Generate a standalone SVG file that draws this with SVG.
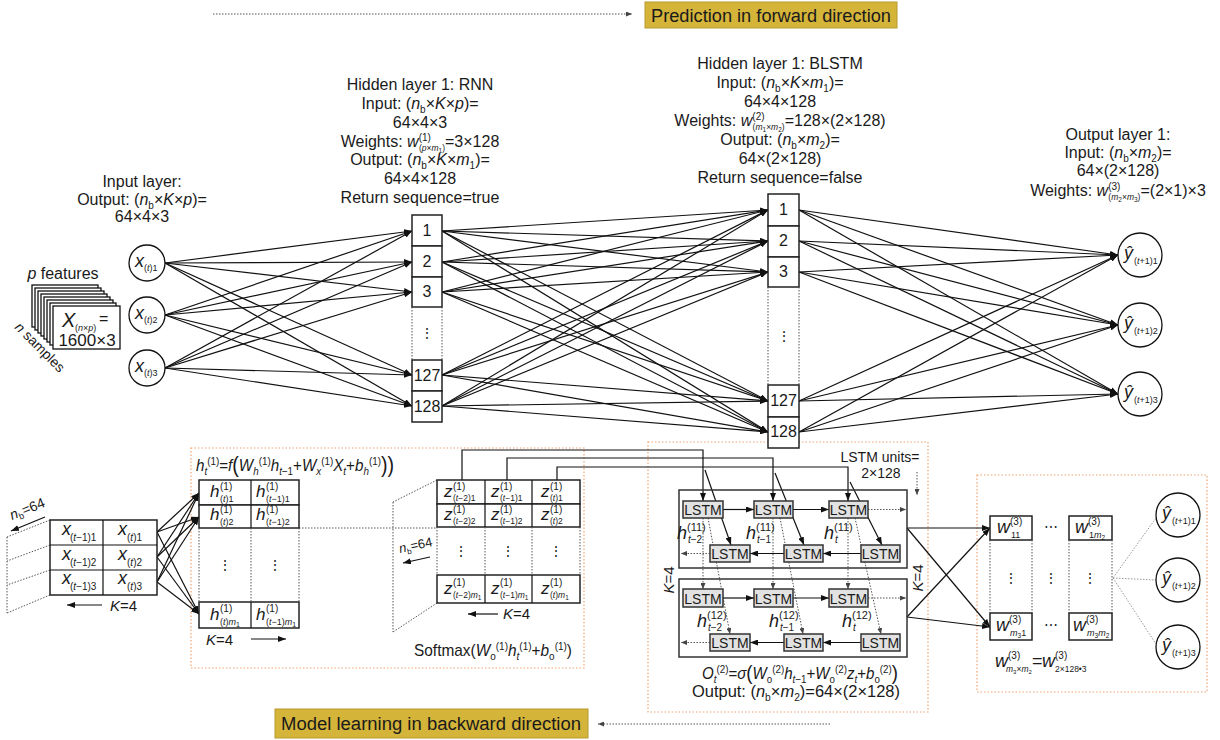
<svg xmlns="http://www.w3.org/2000/svg" width="1220" height="740" viewBox="0 0 1220 740">
<defs>
<style>
text{font-family:'Liberation Sans',Arial,sans-serif;fill:#1a1a1a}
.i{font-style:italic}
.l{stroke:#111;stroke-width:1.2;fill:none}
.la{stroke:#111;stroke-width:1.2;fill:none;marker-end:url(#a)}
.d{stroke:#555;stroke-width:1;stroke-dasharray:1.5 1.5;fill:none}
.da{stroke:#555;stroke-width:1;stroke-dasharray:1.5 1.5;fill:none;marker-end:url(#ag)}
.dg{stroke:#999;stroke-width:1;stroke-dasharray:1.5 1.5;fill:none}
.o{stroke:#F2A46E;stroke-width:1.2;stroke-dasharray:1.5 2;fill:none}
.bx{fill:#fff;stroke:#222;stroke-width:1.5}
.ls{fill:#e2e2e2;stroke:#333;stroke-width:1.5}
.nd{fill:#fff;stroke:#111;stroke-width:1.3}
.m{font-size:16px}
.c{text-anchor:middle}
</style>
<marker id="a" viewBox="0 0 8 6" refX="8" refY="3" markerWidth="8" markerHeight="6" orient="auto" markerUnits="userSpaceOnUse"><path d="M0,0L8,3L0,6z" fill="#111"/></marker>
<marker id="ag" viewBox="0 0 6 5" refX="6" refY="2.5" markerWidth="6" markerHeight="5" orient="auto" markerUnits="userSpaceOnUse"><path d="M0,0L6,2.5L0,5z" fill="#444"/></marker>
</defs>
<rect width="1220" height="740" fill="#fff"/>

<g id="banner-top">
<line x1="213" y1="14" x2="632" y2="14" class="da"/>
<rect x="645" y="2" width="252" height="26" fill="#D5B43A" stroke="#B89A2C"/>
<text x="771" y="21.5" class="c" font-size="18" textLength="240" lengthAdjust="spacingAndGlyphs" fill="#000">Prediction in forward direction</text>
</g>
<g id="banner-bottom">
<line x1="830" y1="724" x2="598" y2="724" class="da"/>
<rect x="275" y="709" width="313" height="29" fill="#D5B43A" stroke="#B89A2C"/>
<text x="431" y="730" class="c" font-size="18" textLength="300" lengthAdjust="spacingAndGlyphs" fill="#000">Model learning in backward direction</text>
</g>

<g id="panels">
<rect x="191" y="448" width="393" height="220" class="o"/>
<rect x="648" y="442" width="280" height="270" class="o"/>
<rect x="977" y="475" width="230" height="217" class="o"/>
</g>

<g id="label-input">
<text x="142" y="187" class="c m">Input layer:</text>
<text x="142" y="205" class="c m">Output: (<tspan class="i">n</tspan><tspan font-size="10" dy="4">b</tspan><tspan dy="-4">×</tspan><tspan class="i">K</tspan>×<tspan class="i">p</tspan>)=</text>
<text x="142" y="222" class="c m">64×4×3</text>
</g>
<g id="label-rnn">
<text x="420" y="90" class="c m">Hidden layer 1: RNN</text>
<text x="420" y="109" class="c m">Input: (<tspan class="i">n</tspan><tspan font-size="10" dy="4">b</tspan><tspan dy="-4">×</tspan><tspan class="i">K</tspan>×<tspan class="i">p</tspan>)=</text>
<text x="420" y="128" class="c m">64×4×3</text>
<text x="420" y="146.5" class="c m">Weights: <tspan class="i">w</tspan><tspan font-size="10" dy="-6">(1)</tspan><tspan font-size="8.5" dx="-12" dy="10">(<tspan class="i">p</tspan>×<tspan class="i">m</tspan><tspan font-size="6.5" dy="2">1</tspan><tspan dy="-2">)</tspan></tspan><tspan dy="-4">=3×128</tspan></text>
<text x="420" y="165" class="c m">Output: (<tspan class="i">n</tspan><tspan font-size="10" dy="4">b</tspan><tspan dy="-4">×</tspan><tspan class="i">K</tspan>×<tspan class="i">m</tspan><tspan font-size="10" dy="4">1</tspan><tspan dy="-4">)=</tspan></text>
<text x="420" y="184" class="c m">64×4×128</text>
<text x="420" y="203" class="c m">Return sequence=true</text>
</g>
<g id="label-blstm">
<text x="780" y="69" class="c m">Hidden layer 1: BLSTM</text>
<text x="780" y="88" class="c m">Input: (<tspan class="i">n</tspan><tspan font-size="10" dy="4">b</tspan><tspan dy="-4">×</tspan><tspan class="i">K</tspan>×<tspan class="i">m</tspan><tspan font-size="10" dy="4">1</tspan><tspan dy="-4">)=</tspan></text>
<text x="780" y="107" class="c m">64×4×128</text>
<text x="780" y="126" class="c m">Weights: <tspan class="i">w</tspan><tspan font-size="10" dy="-6">(2)</tspan><tspan font-size="8.5" dx="-12" dy="10">(<tspan class="i">m</tspan><tspan font-size="6.5" dy="2">1</tspan><tspan dy="-2">×</tspan><tspan class="i">m</tspan><tspan font-size="6.5" dy="2">2</tspan><tspan dy="-2">)</tspan></tspan><tspan dy="-4">=128×(2×128)</tspan></text>
<text x="780" y="145" class="c m">Output: (<tspan class="i">n</tspan><tspan font-size="10" dy="4">b</tspan><tspan dy="-4">×</tspan><tspan class="i">m</tspan><tspan font-size="10" dy="4">2</tspan><tspan dy="-4">)=</tspan></text>
<text x="780" y="164" class="c m">64×(2×128)</text>
<text x="780" y="183" class="c m">Return sequence=false</text>
</g>
<g id="label-output">
<text x="1118" y="140" class="c m">Output layer 1:</text>
<text x="1118" y="158" class="c m">Input: (<tspan class="i">n</tspan><tspan font-size="10" dy="4">b</tspan><tspan dy="-4">×</tspan><tspan class="i">m</tspan><tspan font-size="10" dy="4">2</tspan><tspan dy="-4">)=</tspan></text>
<text x="1118" y="176" class="c m">64×(2×128)</text>
<text x="1118" y="196" class="c m">Weights: <tspan class="i">w</tspan><tspan font-size="10" dy="-6">(3)</tspan><tspan font-size="8.5" dx="-12" dy="10">(<tspan class="i">m</tspan><tspan font-size="6.5" dy="2">2</tspan><tspan dy="-2">×</tspan><tspan class="i">m</tspan><tspan font-size="6.5" dy="2">3</tspan><tspan dy="-2">)</tspan></tspan><tspan dy="-4">=(2×1)×3</tspan></text>
</g>

<g id="connectors">
<path class="la" d="M165,263L412,231"/><path class="la" d="M165,263L412,262"/><path class="la" d="M165,263L412,292"/><path class="la" d="M165,263L412,375"/><path class="la" d="M165,263L412,406"/>
<path class="la" d="M165,315L412,231"/><path class="la" d="M165,315L412,262"/><path class="la" d="M165,315L412,292"/><path class="la" d="M165,315L412,375"/><path class="la" d="M165,315L412,406"/>
<path class="la" d="M165,368L412,231"/><path class="la" d="M165,368L412,262"/><path class="la" d="M165,368L412,292"/><path class="la" d="M165,368L412,375"/><path class="la" d="M165,368L412,406"/>

<path class="la" d="M442,231L768,210"/><path class="la" d="M442,231L768,241"/><path class="la" d="M442,231L768,272"/><path class="la" d="M442,231L768,401"/><path class="la" d="M442,231L768,432"/>
<path class="la" d="M442,262L768,210"/><path class="la" d="M442,262L768,241"/><path class="la" d="M442,262L768,272"/><path class="la" d="M442,262L768,401"/><path class="la" d="M442,262L768,432"/>
<path class="la" d="M442,292L768,210"/><path class="la" d="M442,292L768,241"/><path class="la" d="M442,292L768,272"/><path class="la" d="M442,292L768,401"/><path class="la" d="M442,292L768,432"/>
<path class="la" d="M442,375L768,210"/><path class="la" d="M442,375L768,241"/><path class="la" d="M442,375L768,272"/><path class="la" d="M442,375L768,401"/><path class="la" d="M442,375L768,432"/>
<path class="la" d="M442,406L768,210"/><path class="la" d="M442,406L768,241"/><path class="la" d="M442,406L768,272"/><path class="la" d="M442,406L768,401"/><path class="la" d="M442,406L768,432"/>

<path class="la" d="M799,210L1118,255"/><path class="la" d="M799,210L1118,325"/><path class="la" d="M799,210L1118,394"/>
<path class="la" d="M799,241L1118,255"/><path class="la" d="M799,241L1118,325"/><path class="la" d="M799,241L1118,394"/>
<path class="la" d="M799,272L1118,255"/><path class="la" d="M799,272L1118,325"/><path class="la" d="M799,272L1118,394"/>
<path class="la" d="M799,401L1118,255"/><path class="la" d="M799,401L1118,325"/><path class="la" d="M799,401L1118,394"/>
<path class="la" d="M799,432L1118,255"/><path class="la" d="M799,432L1118,325"/><path class="la" d="M799,432L1118,394"/>

<path class="la" d="M157,532L199,493"/><path class="la" d="M157,532L199,517"/><path class="la" d="M157,532L199,614"/>
<path class="la" d="M157,557L199,493"/><path class="la" d="M157,557L199,517"/><path class="la" d="M157,557L199,614"/>
<path class="la" d="M157,582L199,493"/><path class="la" d="M157,582L199,517"/><path class="la" d="M157,582L199,614"/>

<path class="la" d="M462,480V450H703V501"/>
<path class="la" d="M507,480V458H773V501"/>
<path class="la" d="M557,480V467H848V501"/>
<path class="la" d="M705,470L731,545"/>
<path class="la" d="M775,473L804,545"/>
<path class="la" d="M850,482L882,545"/>
<path class="da" d="M703,518V589"/><path class="da" d="M708,518L730,634"/>
<path class="da" d="M773,518V589"/><path class="da" d="M780,518L803,634"/>
<path class="da" d="M848,518V589"/><path class="da" d="M855,518L881,634"/>

<path class="la" d="M723,509.5H754"/><path class="la" d="M793,509.5H829"/><path class="da" d="M868,509.5H906"/>
<path class="la" d="M861,553.5H823"/><path class="la" d="M784,553.5H750"/><path class="da" d="M710,553.5H681"/>
<path class="la" d="M723,598H754"/><path class="la" d="M793,598H829"/><path class="da" d="M868,598H906"/>
<path class="la" d="M861,642.5H823"/><path class="la" d="M784,642.5H750"/><path class="da" d="M710,642.5H681"/>
<path class="da" d="M917,472V495"/>

<path class="la" d="M907,528L990,528"/><path class="la" d="M907,528L990,627"/>
<path class="la" d="M907,617L990,528"/><path class="la" d="M907,617L990,627"/>

<path class="dg" d="M1113,578L1156,518"/><path class="dg" d="M1113,578L1156,580"/><path class="dg" d="M1113,578L1156,644"/>
</g>

<g id="data-stack">
<text x="63" y="279" class="c m"><tspan class="i">p</tspan> features</text>
<rect x="32" y="285" width="66" height="42" class="nd"/>
<rect x="35" y="288" width="66" height="42" class="nd"/>
<rect x="38" y="291" width="66" height="42" class="nd"/>
<rect x="41" y="294" width="66" height="42" class="nd"/>
<rect x="44" y="297" width="66" height="42" class="nd"/>
<rect x="47" y="300" width="66" height="42" class="nd"/>
<rect x="50" y="303" width="66" height="42" class="nd"/>
<rect x="53" y="306" width="67" height="43" class="nd"/>
<text x="62" y="327" font-size="20" class="i">X</text>
<text x="75" y="331" font-size="9">(<tspan class="i">n</tspan>×<tspan class="i">p</tspan>)</text>
<text x="99" y="324" font-size="16">=</text>
<text x="87" y="346" class="c" font-size="17">1600×3</text>
<text x="14" y="328" font-size="14" transform="rotate(45 14 328)"><tspan class="i">n</tspan> samples</text>
</g>

<g id="in-1"><circle cx="147" cy="263" r="18" class="nd"/><text x="135" y="267" font-size="18" class="i">x</text><text x="144" y="271" font-size="9">(<tspan class="i">t</tspan>)1</text></g>
<g id="in-2"><circle cx="147" cy="315" r="18" class="nd"/><text x="135" y="319" font-size="18" class="i">x</text><text x="144" y="323" font-size="9">(<tspan class="i">t</tspan>)2</text></g>
<g id="in-3"><circle cx="147" cy="368" r="18" class="nd"/><text x="135" y="372" font-size="18" class="i">x</text><text x="144" y="376" font-size="9">(<tspan class="i">t</tspan>)3</text></g>

<g id="rnn">
<rect x="412" y="215" width="30" height="31" class="bx"/><text x="427" y="236" class="c m">1</text>
<rect x="412" y="246" width="30" height="31" class="bx"/><text x="427" y="267" class="c m">2</text>
<rect x="412" y="277" width="30" height="30" class="bx"/><text x="427" y="297" class="c m">3</text>
<path class="d" d="M412,307V360M442,307V360"/>
<text x="427" y="338" class="c" font-size="14">⋮</text>
<rect x="412" y="360" width="30" height="31" class="bx"/><text x="427" y="381" class="c m">127</text>
<rect x="412" y="391" width="30" height="31" class="bx"/><text x="427" y="412" class="c m">128</text>
</g>

<g id="blstm">
<rect x="768" y="194" width="31" height="32" class="bx"/><text x="783.5" y="215" class="c m">1</text>
<rect x="768" y="226" width="31" height="31" class="bx"/><text x="783.5" y="246" class="c m">2</text>
<rect x="768" y="257" width="31" height="30" class="bx"/><text x="783.5" y="277" class="c m">3</text>
<path class="d" d="M768,287V385M799,287V385"/>
<text x="783.5" y="341" class="c" font-size="14">⋮</text>
<rect x="768" y="385" width="31" height="32" class="bx"/><text x="783.5" y="406" class="c m">127</text>
<rect x="768" y="417" width="31" height="31" class="bx"/><text x="783.5" y="437" class="c m">128</text>
</g>

<g id="out-1"><circle cx="1140" cy="255" r="22" class="nd"/><text x="1124" y="259" font-size="18" class="i">ŷ</text><text x="1134" y="264" font-size="9">(<tspan class="i">t</tspan>+1)1</text></g>
<g id="out-2"><circle cx="1140" cy="325" r="22" class="nd"/><text x="1124" y="329" font-size="18" class="i">ŷ</text><text x="1134" y="334" font-size="9">(<tspan class="i">t</tspan>+1)2</text></g>
<g id="out-3"><circle cx="1140" cy="394" r="22" class="nd"/><text x="1124" y="398" font-size="18" class="i">ŷ</text><text x="1134" y="403" font-size="9">(<tspan class="i">t</tspan>+1)3</text></g>

<g id="x-matrix">
<path class="d" d="M50,520L7,537M50,545L7,561M50,570L7,585M50,595L7,613M7,537V613"/>
<rect x="50" y="520" width="107" height="75" class="bx"/>
<path class="l" d="M103,520V595M50,545H157M50,570H157" stroke-width="1.5"/>
<text x="62" y="535" font-size="18" class="i">x</text><text x="70" y="541" font-size="10">(<tspan class="i">t</tspan>−1)1</text>
<text x="118" y="535" font-size="18" class="i">x</text><text x="127" y="541" font-size="10">(<tspan class="i">t</tspan>)1</text>
<text x="62" y="560" font-size="18" class="i">x</text><text x="70" y="566" font-size="10">(<tspan class="i">t</tspan>−1)2</text>
<text x="118" y="560" font-size="18" class="i">x</text><text x="127" y="566" font-size="10">(<tspan class="i">t</tspan>)2</text>
<text x="62" y="584" font-size="18" class="i">x</text><text x="70" y="590" font-size="10">(<tspan class="i">t</tspan>−1)3</text>
<text x="118" y="584" font-size="18" class="i">x</text><text x="127" y="590" font-size="10">(<tspan class="i">t</tspan>)3</text>
<path class="la" d="M45,517L11,531"/>
<text x="12" y="520" font-size="14" transform="rotate(-22 12 520)"><tspan class="i">n</tspan><tspan font-size="9" dy="3">b</tspan><tspan dy="-3">=64</tspan></text>
<path class="la" d="M102,605H67"/>
<text x="110" y="611" font-size="15"><tspan class="i">K</tspan>=4</text>
</g>

<g id="h-matrix">
<text x="196" y="471" font-size="17" textLength="198" lengthAdjust="spacingAndGlyphs"><tspan class="i">h</tspan><tspan class="i" font-size="11" dy="4">t</tspan><tspan font-size="11" dy="-10">(1)</tspan><tspan dy="6">=</tspan><tspan class="i">f</tspan><tspan font-size="22" dy="1">(</tspan><tspan class="i" dy="-1">W</tspan><tspan class="i" font-size="11" dy="4">h</tspan><tspan font-size="11" dy="-10">(1)</tspan><tspan class="i" dy="6">h</tspan><tspan font-size="11" dy="4"><tspan class="i">t</tspan>−1</tspan><tspan dy="-4">+</tspan><tspan class="i">W</tspan><tspan class="i" font-size="11" dy="4">x</tspan><tspan font-size="11" dy="-10">(1)</tspan><tspan class="i" dy="6">X</tspan><tspan class="i" font-size="11" dy="4">t</tspan><tspan dy="-4">+</tspan><tspan class="i">b</tspan><tspan class="i" font-size="11" dy="4">h</tspan><tspan font-size="11" dy="-10">(1)</tspan><tspan font-size="22" dy="7">))</tspan></text>
<path class="d" d="M299,528H437"/>
<rect x="199" y="480" width="100" height="25" class="bx"/>
<rect x="199" y="505" width="100" height="23" class="bx"/>
<rect x="199" y="602" width="100" height="26" class="bx"/>
<path class="l" stroke-width="1.5" d="M251,480V528M251,602V628"/>
<path class="d" d="M199,528V602M251,528V602M299,528V602"/>
<text x="225" y="570" class="c" font-size="14">⋮</text><text x="275" y="570" class="c" font-size="14">⋮</text>
<text x="210" y="497" font-size="17" class="i">h</text><text x="220" y="490" font-size="10">(1)</text><text x="220" y="502" font-size="9">(<tspan class="i">t</tspan>)1</text>
<text x="256" y="497" font-size="17" class="i">h</text><text x="266" y="490" font-size="10">(1)</text><text x="266" y="502" font-size="9">(<tspan class="i">t</tspan>−1)1</text>
<text x="210" y="520" font-size="17" class="i">h</text><text x="220" y="513" font-size="10">(1)</text><text x="220" y="525" font-size="9">(<tspan class="i">t</tspan>)2</text>
<text x="256" y="520" font-size="17" class="i">h</text><text x="266" y="513" font-size="10">(1)</text><text x="266" y="525" font-size="9">(<tspan class="i">t</tspan>−1)2</text>
<text x="210" y="620" font-size="17" class="i">h</text><text x="220" y="612" font-size="10">(1)</text><text x="220" y="625" font-size="9">(<tspan class="i">t</tspan>)<tspan class="i">m</tspan><tspan font-size="7" dy="2">1</tspan></text>
<text x="256" y="620" font-size="17" class="i">h</text><text x="266" y="612" font-size="10">(1)</text><text x="266" y="625" font-size="9">(<tspan class="i">t</tspan>−1)<tspan class="i">m</tspan><tspan font-size="7" dy="2">1</tspan></text>
<text x="206" y="645" font-size="15"><tspan class="i">K</tspan>=4</text>
<path class="la" d="M251,639H286"/>
</g>

<g id="z-matrix">
<path class="d" d="M437,480L393,502M437,603L393,632M393,502V632"/>
<rect x="437" y="480" width="143" height="24" class="bx"/>
<rect x="437" y="504" width="143" height="23" class="bx"/>
<rect x="437" y="575" width="143" height="28" class="bx"/>
<path class="l" stroke-width="1.5" d="M485,480V527M532,480V527M485,575V603M532,575V603"/>
<path class="d" d="M437,527V575M485,527V575M532,527V575M580,527V575"/>
<text x="461" y="556" class="c" font-size="14">⋮</text><text x="508" y="556" class="c" font-size="14">⋮</text><text x="556" y="556" class="c" font-size="14">⋮</text>
<text x="444" y="497" font-size="17" class="i">z</text><text x="453" y="490" font-size="10">(1)</text><text x="453" y="501" font-size="8.5">(<tspan class="i">t</tspan>−2)1</text>
<text x="491" y="497" font-size="17" class="i">z</text><text x="500" y="490" font-size="10">(1)</text><text x="500" y="501" font-size="8.5">(<tspan class="i">t</tspan>−1)1</text>
<text x="541" y="497" font-size="17" class="i">z</text><text x="550" y="490" font-size="10">(1)</text><text x="550" y="501" font-size="8.5">(<tspan class="i">t</tspan>)1</text>
<text x="444" y="520" font-size="17" class="i">z</text><text x="453" y="513" font-size="10">(1)</text><text x="453" y="524" font-size="8.5">(<tspan class="i">t</tspan>−2)2</text>
<text x="491" y="520" font-size="17" class="i">z</text><text x="500" y="513" font-size="10">(1)</text><text x="500" y="524" font-size="8.5">(<tspan class="i">t</tspan>−1)2</text>
<text x="541" y="520" font-size="17" class="i">z</text><text x="550" y="513" font-size="10">(1)</text><text x="550" y="524" font-size="8.5">(<tspan class="i">t</tspan>)2</text>
<text x="444" y="594" font-size="17" class="i">z</text><text x="453" y="586" font-size="10">(1)</text><text x="453" y="598" font-size="8.5">(<tspan class="i">t</tspan>−2)<tspan class="i">m</tspan><tspan font-size="6.5" dy="2">1</tspan></text>
<text x="491" y="594" font-size="17" class="i">z</text><text x="500" y="586" font-size="10">(1)</text><text x="500" y="598" font-size="8.5">(<tspan class="i">t</tspan>−1)<tspan class="i">m</tspan><tspan font-size="6.5" dy="2">1</tspan></text>
<text x="541" y="594" font-size="17" class="i">z</text><text x="550" y="586" font-size="10">(1)</text><text x="550" y="598" font-size="8.5">(<tspan class="i">t</tspan>)<tspan class="i">m</tspan><tspan font-size="6.5" dy="2">1</tspan></text>
<text x="400" y="553" font-size="13" transform="rotate(-12 400 553)"><tspan class="i">n</tspan><tspan font-size="8" dy="3">b</tspan><tspan dy="-3">=64</tspan></text>
<path class="la" d="M430,557L403,563"/>
<path class="la" d="M498,614H468"/>
<text x="503" y="619" font-size="15"><tspan class="i">K</tspan>=4</text>
<text x="493" y="656" class="c" font-size="17" textLength="158" lengthAdjust="spacingAndGlyphs">Softmax(<tspan class="i">W</tspan><tspan font-size="11" dy="4">o</tspan><tspan font-size="11" dy="-10">(1)</tspan><tspan class="i" dy="6">h</tspan><tspan class="i" font-size="11" dy="4">t</tspan><tspan font-size="11" dy="-10">(1)</tspan><tspan dy="6">+</tspan><tspan class="i">b</tspan><tspan font-size="11" dy="4">o</tspan><tspan font-size="11" dy="-10">(1)</tspan><tspan dy="6">)</tspan></text>
</g>

<g id="lstm-block-1">
<rect x="679" y="490" width="228" height="78" fill="none" stroke="#333" stroke-width="1.5"/>
</g>
<g id="lstm-block-2">
<rect x="679" y="579" width="228" height="78" fill="none" stroke="#333" stroke-width="1.5"/>
</g>
<g id="lstm-f11"><rect x="683" y="501" width="40" height="17" class="ls"/><text x="703" y="515" class="c" font-size="14">LSTM</text></g>
<g id="lstm-f12"><rect x="754" y="501" width="39" height="17" class="ls"/><text x="773.5" y="515" class="c" font-size="14">LSTM</text></g>
<g id="lstm-f13"><rect x="829" y="501" width="39" height="17" class="ls"/><text x="848.5" y="515" class="c" font-size="14">LSTM</text></g>
<g id="lstm-b11"><rect x="710" y="545" width="40" height="17" class="ls"/><text x="730" y="559" class="c" font-size="14">LSTM</text></g>
<g id="lstm-b12"><rect x="784" y="545" width="39" height="17" class="ls"/><text x="803.5" y="559" class="c" font-size="14">LSTM</text></g>
<g id="lstm-b13"><rect x="861" y="545" width="39" height="17" class="ls"/><text x="880.5" y="559" class="c" font-size="14">LSTM</text></g>
<g id="lstm-f21"><rect x="683" y="589" width="40" height="18" class="ls"/><text x="703" y="603.5" class="c" font-size="14">LSTM</text></g>
<g id="lstm-f22"><rect x="754" y="589" width="39" height="18" class="ls"/><text x="773.5" y="603.5" class="c" font-size="14">LSTM</text></g>
<g id="lstm-f23"><rect x="829" y="589" width="39" height="18" class="ls"/><text x="848.5" y="603.5" class="c" font-size="14">LSTM</text></g>
<g id="lstm-b21"><rect x="710" y="634" width="40" height="17" class="ls"/><text x="730" y="648" class="c" font-size="14">LSTM</text></g>
<g id="lstm-b22"><rect x="784" y="634" width="39" height="17" class="ls"/><text x="803.5" y="648" class="c" font-size="14">LSTM</text></g>
<g id="lstm-b23"><rect x="861" y="634" width="39" height="17" class="ls"/><text x="880.5" y="648" class="c" font-size="14">LSTM</text></g>

<g id="lstm-labels">
<text x="880" y="462" class="c" font-size="14">LSTM units=</text>
<text x="881" y="478" class="c" font-size="14">2×128</text>
<text x="677" y="539" font-size="18" class="i">h</text><text x="687" y="531" font-size="11">(11)</text><text x="688" y="543" font-size="10"><tspan class="i">t</tspan>−2</text>
<text x="746" y="539" font-size="18" class="i">h</text><text x="756" y="531" font-size="11">(11)</text><text x="757" y="543" font-size="10"><tspan class="i">t</tspan>−1</text>
<text x="824" y="539" font-size="18" class="i">h</text><text x="834" y="531" font-size="11">(11)</text><text x="835" y="543" font-size="10" class="i">t</text>
<text x="697" y="627" font-size="18" class="i">h</text><text x="707" y="619" font-size="11">(12)</text><text x="708" y="631" font-size="10"><tspan class="i">t</tspan>−2</text>
<text x="769" y="627" font-size="18" class="i">h</text><text x="779" y="619" font-size="11">(12)</text><text x="780" y="631" font-size="10"><tspan class="i">t</tspan>−1</text>
<text x="842" y="627" font-size="18" class="i">h</text><text x="852" y="619" font-size="11">(12)</text><text x="853" y="631" font-size="10" class="i">t</text>
<text transform="translate(673.5,580) rotate(-90)" class="c" font-size="15"><tspan class="i">K</tspan>=4</text>
<text transform="translate(922.5,578) rotate(-90)" class="c" font-size="15"><tspan class="i">K</tspan>=4</text>
<text x="800" y="679" class="c" font-size="17" textLength="196" lengthAdjust="spacingAndGlyphs"><tspan class="i">O</tspan><tspan class="i" font-size="11" dy="4">t</tspan><tspan font-size="11" dy="-10">(2)</tspan><tspan dy="6">=</tspan><tspan class="i">σ</tspan><tspan font-size="21" dy="1">(</tspan><tspan class="i" dy="-1">W</tspan><tspan font-size="11" dy="4">o</tspan><tspan font-size="11" dy="-10">(2)</tspan><tspan class="i" dy="6">h</tspan><tspan font-size="11" dy="4"><tspan class="i">t</tspan>−1</tspan><tspan dy="-4">+</tspan><tspan class="i">W</tspan><tspan font-size="11" dy="4">o</tspan><tspan font-size="11" dy="-10">(2)</tspan><tspan class="i" dy="6">z</tspan><tspan class="i" font-size="11" dy="4">t</tspan><tspan dy="-4">+</tspan><tspan class="i">b</tspan><tspan font-size="11" dy="4">o</tspan><tspan font-size="11" dy="-10">(2)</tspan><tspan font-size="21" dy="7">)</tspan></text>
<text x="796" y="697" class="c" font-size="16" textLength="208" lengthAdjust="spacingAndGlyphs">Output: (<tspan class="i">n</tspan><tspan font-size="10" dy="4">b</tspan><tspan dy="-4">×</tspan><tspan class="i">m</tspan><tspan font-size="10" dy="4">2</tspan><tspan dy="-4">)=64×(2×128)</tspan></text>
</g>

<g id="w-matrix">
<rect x="990" y="516" width="42" height="24" class="bx"/>
<rect x="1069" y="516" width="43" height="24" class="bx"/>
<rect x="990" y="613" width="42" height="27" class="bx"/>
<rect x="1069" y="613" width="43" height="27" class="bx"/>
<path class="d" d="M990,540V613M1032,540V613M1069,540V613M1112,540V613"/>
<text x="1051" y="532" class="c" font-size="14">⋯</text><text x="1051" y="630" class="c" font-size="14">⋯</text>
<text x="1011" y="583" class="c" font-size="14">⋮</text><text x="1051" y="583" class="c" font-size="14">⋮</text><text x="1090" y="583" class="c" font-size="14">⋮</text>
<text x="997" y="533" font-size="18" class="i">w</text><text x="1010" y="525" font-size="10">(3)</text><text x="1011" y="538" font-size="9">11</text>
<text x="1075" y="533" font-size="18" class="i">w</text><text x="1088" y="525" font-size="10">(3)</text><text x="1089" y="538" font-size="9">1<tspan class="i">m</tspan><tspan font-size="6.5" dy="2">2</tspan></text>
<text x="996" y="631" font-size="18" class="i">w</text><text x="1009" y="623" font-size="10">(3)</text><text x="1010" y="636" font-size="9"><tspan class="i">m</tspan><tspan font-size="6.5" dy="2">3</tspan><tspan dy="-2">1</tspan></text>
<text x="1073" y="631" font-size="18" class="i">w</text><text x="1086" y="623" font-size="10">(3)</text><text x="1087" y="636" font-size="9"><tspan class="i">m</tspan><tspan font-size="6.5" dy="2">3</tspan><tspan class="i" dy="-2">m</tspan><tspan font-size="6.5" dy="2">2</tspan></text>
<text x="995" y="667" font-size="18" class="i">w</text><text x="1008" y="659" font-size="10">(3)</text><text x="1006" y="672" font-size="8.5"><tspan class="i">m</tspan><tspan font-size="6" dy="2">3</tspan><tspan dy="-2">×</tspan><tspan class="i">m</tspan><tspan font-size="6" dy="2">2</tspan></text>
<text x="1032" y="667" font-size="18">=</text>
<text x="1042" y="667" font-size="18" class="i">w</text><text x="1055" y="659" font-size="10">(3)</text><text x="1055" y="672" font-size="8.5">2×128•3</text>
</g>

<g id="yhat-1"><circle cx="1178" cy="515" r="22" class="nd"/><text x="1162" y="519" font-size="18" class="i">ŷ</text><text x="1172" y="524" font-size="9">(<tspan class="i">t</tspan>+1)1</text></g>
<g id="yhat-2"><circle cx="1178" cy="580" r="22" class="nd"/><text x="1162" y="584" font-size="18" class="i">ŷ</text><text x="1172" y="589" font-size="9">(<tspan class="i">t</tspan>+1)2</text></g>
<g id="yhat-3"><circle cx="1178" cy="647" r="22" class="nd"/><text x="1162" y="651" font-size="18" class="i">ŷ</text><text x="1172" y="656" font-size="9">(<tspan class="i">t</tspan>+1)3</text></g>
</svg>
